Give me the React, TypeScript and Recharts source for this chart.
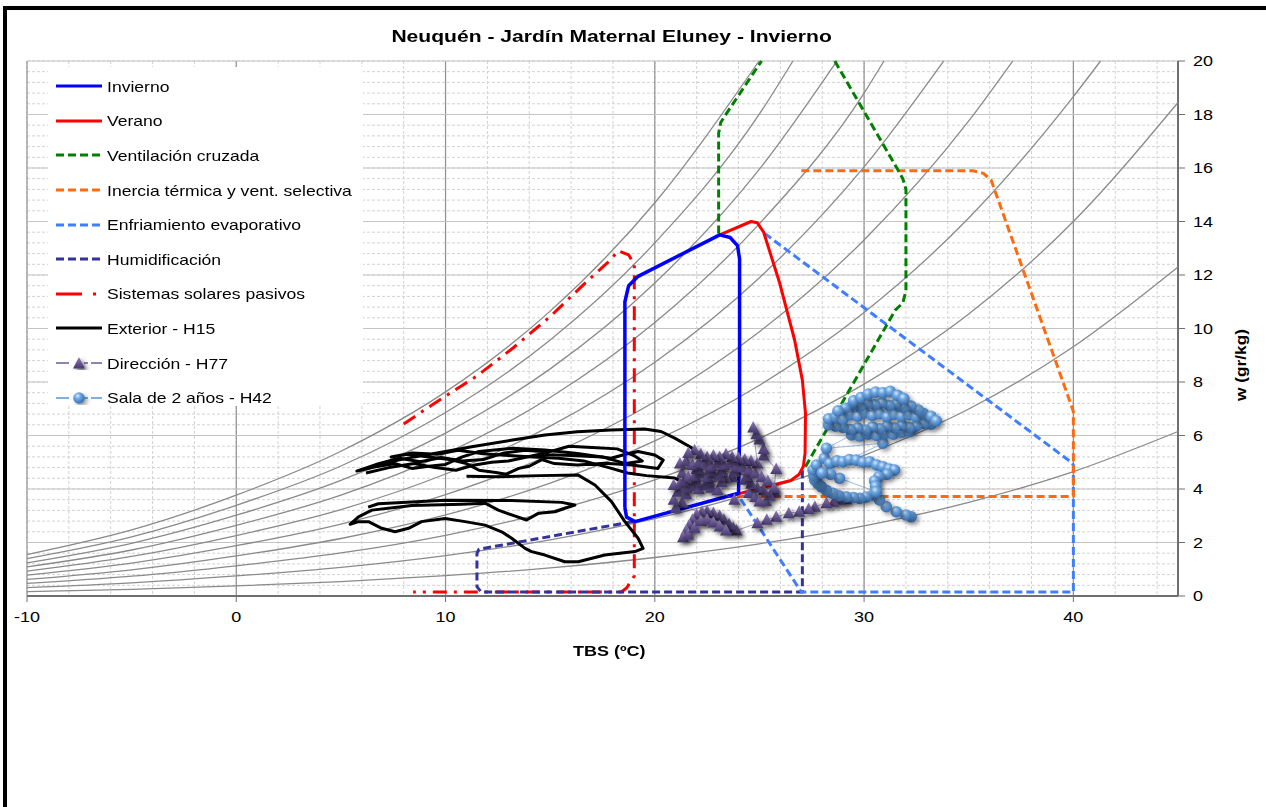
import React from "react";
import { ScatterChart, Scatter, XAxis, YAxis, CartesianGrid } from "recharts";

type Par = [number, number];

const FUENTE = '"Liberation Sans", Arial, Helvetica, sans-serif';
// el original está estirado en horizontal
const ESTIRA = 1.2;

const titulo = "Neuquén - Jardín Maternal Eluney - Invierno";
const tituloX = "TBS (ºC)";
const tituloY = "w (gr/kg)";

const ticksX = [-10, 0, 10, 20, 30, 40];
const ticksY = [0, 2, 4, 6, 8, 10, 12, 14, 16, 18, 20];
// grilla secundaria: cada 2 ºC y cada 0,4 gr/kg
const ticksXMenor = Array.from({ length: 28 }, (_, i) => -10 + 2 * i);
const ticksYMenor = Array.from({ length: 51 }, (_, i) => Math.round(i * 4) / 10);

const hr100: Par[] = [[-10, 1.55], [-5, 2.47], [0, 3.77], [5, 5.41], [10, 7.63], [15, 10.65], [20, 14.7], [24.98, 20]];
const hr90: Par[] = [[-10, 1.4], [-5, 2.21], [0, 3.39], [5, 4.86], [10, 6.86], [15, 9.57], [20, 13.2], [25, 18.02], [26.6, 20]];
const hr80: Par[] = [[-10, 1.24], [-5, 1.97], [0, 3.02], [5, 4.32], [10, 6.09], [15, 8.49], [20, 11.7], [25, 15.96], [28.7, 20]];
const hr70: Par[] = [[-10, 1.09], [-5, 1.72], [0, 2.64], [5, 3.77], [10, 5.32], [15, 7.42], [20, 10.22], [25, 13.92], [30, 18.8], [30.95, 20]];
const hr60: Par[] = [[-10, 0.93], [-5, 1.48], [0, 2.26], [5, 3.23], [10, 4.56], [15, 6.35], [20, 8.74], [25, 11.9], [30, 16.04], [33.8, 20]];
const hr50: Par[] = [[-10, 0.78], [-5, 1.23], [0, 1.88], [5, 2.69], [10, 3.79], [15, 5.28], [20, 7.26], [25, 9.88], [30, 13.31], [35, 17.76], [37.1, 20]];
const hr40: Par[] = [[-10, 0.62], [-5, 0.98], [0, 1.5], [5, 2.15], [10, 3.03], [15, 4.22], [20, 5.8], [25, 7.88], [30, 10.6], [35, 14.13], [40, 18.67], [41.3, 20]];
const hr30: Par[] = [[-10, 0.47], [-5, 0.74], [0, 1.13], [5, 1.61], [10, 2.27], [15, 3.16], [20, 4.34], [25, 5.89], [30, 7.92], [35, 10.54], [40, 14.0], [45, 18.45]];
const hr20: Par[] = [[-10, 0.31], [-5, 0.49], [0, 0.75], [5, 1.07], [10, 1.51], [15, 2.1], [20, 2.89], [25, 3.92], [30, 5.26], [35, 6.99], [40, 9.32], [45, 12.3]];
const hr10: Par[] = [[-10, 0.16], [-5, 0.25], [0, 0.38], [5, 0.54], [10, 0.76], [15, 1.05], [20, 1.44], [25, 1.95], [30, 2.62], [35, 3.5], [40, 4.65], [45, 6.15]];
const curvasHR = [hr100, hr90, hr80, hr70, hr60, hr50, hr40, hr30, hr20, hr10];

// zonas de confort y estrategias
const invierno: Par[] = [[18.57, 3.3], [18.65, 2.95], [19.05, 2.78], [24.0, 3.84], [24.05, 6.0], [24.05, 12.6], [23.95, 13.1], [23.6, 13.4], [23.1, 13.5], [19.2, 11.95], [18.75, 11.6], [18.57, 11.0], [18.57, 3.3]];
const verano: Par[] = [[23.1, 13.5], [24.6, 14.0], [24.9, 13.95], [25.2, 13.6], [25.97, 11.69], [26.68, 9.57], [27.05, 8.07], [27.2, 6.83], [27.18, 5.34], [27.1, 4.85], [26.9, 4.55], [26.5, 4.32], [23.5, 3.72]];
const ventilacionIzq: Par[] = [[23.05, 13.55], [23.05, 17.3], [23.15, 17.7], [23.35, 17.95], [25.1, 20]];
const ventilacionDer: Par[] = [[28.6, 20], [31.6, 15.95], [31.85, 15.6], [32.0, 15.2], [32.0, 11.4], [31.85, 10.95], [31.5, 10.7], [27.15, 4.77]];
const inercia: Par[] = [[27.0, 15.9], [35.2, 15.9], [35.7, 15.8], [36.07, 15.55], [39.8, 7.35], [40.0, 6.9], [40.0, 3.72], [23.5, 3.72]];
const enfriamiento: Par[] = [[25.25, 13.55], [39.9, 5.0], [40.0, 4.9], [40.0, 0.15], [27.0, 0.15], [24.0, 3.75]];
const humidificacion: Par[] = [[18.95, 2.78], [11.6, 1.75], [11.5, 1.6], [11.5, 0.35], [11.7, 0.15], [27.05, 0.15], [27.05, 4.77]];
const solaresPasivos: Par[] = [[8.0, 6.43], [9.42, 7.18], [11.49, 8.22], [13.24, 9.28], [14.99, 10.44], [16.58, 11.63], [17.85, 12.54], [18.25, 12.91], [18.75, 12.75], [19.02, 12.4], [19.02, 0.75], [18.65, 0.3], [18.4, 0.15], [8.45, 0.15]];

// Exterior - H15 (tramos del registro)
const exteriorTramo1: Par[] = [
  [22.4, 5.15], [21.7, 5.57], [20.95, 5.9], [20.3, 6.15], [19.5, 6.24], [17.9, 6.21], [16.3, 6.14], [14.75, 6.02], [13.2, 5.83],
  [11.25, 5.58], [10.0, 5.4], [8.5, 5.2], [7.75, 5.08], [6.8, 4.9], [5.76, 4.67], [6.6, 4.82], [7.6, 4.95], [8.4, 4.77], [9.2, 4.85],
  [10.0, 4.92], [10.8, 5.2], [11.6, 5.4], [13.2, 5.52], [14.75, 5.46], [16.3, 5.33], [17.9, 5.15], [18.6, 5.3], [19.2, 5.4],
  [20.0, 5.27], [20.4, 5.08], [20.15, 4.77], [18.9, 4.9], [17.6, 4.96], [16.3, 4.9], [15.2, 4.95], [14.6, 5.1], [14.0, 4.85],
  [13.5, 4.77], [12.9, 4.55], [12.4, 4.62], [11.6, 4.7], [11.0, 4.95], [10.2, 5.1], [9.2, 5.2], [8.2, 5.3], [7.4, 5.2], [8.4, 5.35],
  [9.6, 5.3], [10.6, 5.45], [11.8, 5.32], [13.0, 5.25], [14.2, 5.2], [15.4, 5.15], [16.6, 5.05], [17.8, 4.8], [18.7, 4.6],
  [19.6, 4.5], [20.95, 4.41], [21.8, 4.09],
];
const exteriorTramo2: Par[] = [
  [11.0, 4.48], [12.5, 4.46], [14.5, 4.5], [16.34, 4.52], [17.14, 4.15], [17.93, 3.53], [18.57, 2.78], [19.2, 2.16], [19.44, 1.78],
  [19.05, 1.66], [17.61, 1.53], [16.34, 1.28], [15.7, 1.28], [14.75, 1.53], [14.11, 1.66], [13.8, 1.78], [13.16, 2.16], [12.68, 2.4],
  [11.89, 2.65], [10.93, 2.78], [9.98, 2.9], [8.86, 2.78], [8.23, 2.53], [7.59, 2.4], [6.95, 2.53], [6.32, 2.78], [5.84, 2.78],
  [5.44, 2.68], [5.84, 2.96], [6.48, 3.21], [8.39, 3.38], [10.77, 3.43], [11.89, 3.47], [12.52, 3.21], [13.16, 3.03], [13.87, 2.84],
  [14.43, 3.09], [15.23, 3.15], [15.7, 3.28], [16.18, 3.4], [15.55, 3.5], [13.16, 3.57], [9.98, 3.58], [6.79, 3.45], [6.3, 3.32],
];
const exteriorTramo3: Par[] = [
  [5.9, 4.7], [6.8, 4.95], [7.8, 5.15], [8.8, 5.02], [9.8, 5.18], [10.8, 5.05], [11.8, 5.1], [12.8, 5.35], [13.8, 5.45], [14.9, 5.38],
  [15.9, 5.6], [17.0, 5.55], [18.2, 5.5], [19.0, 5.25], [19.4, 5.05], [18.6, 4.95], [17.5, 5.2], [16.0, 5.25], [14.5, 5.3],
  [13.0, 5.05], [12.2, 5.0], [11.4, 4.9], [10.5, 4.7], [9.5, 4.8], [8.5, 4.95], [7.3, 4.8], [6.2, 4.6],
];

// Dirección - H77
const direccion: Par[] = [
  [29.15, 3.62], [28.85, 3.6], [28.55, 3.52], [28.2, 3.47], [27.65, 3.34], [27.35, 3.25], [26.9, 3.15], [26.4, 3.09], [25.8, 2.96],
  [25.35, 2.85], [24.9, 2.72], [23.9, 2.45], [23.75, 2.55], [23.55, 2.68], [23.3, 2.85], [23.1, 3.0], [22.8, 3.1], [22.5, 3.18],
  [22.25, 3.15], [22.0, 3.05], [21.8, 2.85], [21.65, 2.65], [21.5, 2.45], [21.35, 2.2], [21.6, 2.3], [21.9, 2.55], [22.2, 2.8],
  [22.5, 2.85], [22.8, 2.75], [23.1, 2.6], [23.4, 2.45], [21.3, 3.5], [21.0, 3.3], [20.9, 3.6], [21.1, 3.9], [21.5, 3.8],
  [20.9, 4.15], [21.2, 4.2], [21.5, 4.05], [21.8, 4.1], [22.1, 4.0], [22.4, 4.15], [22.7, 4.05], [23.0, 3.95], [23.8, 3.6],
  [24.5, 3.85], [24.8, 3.7], [25.0, 3.53], [25.3, 3.55], [25.73, 3.9], [25.5, 3.75], [25.2, 3.95], [24.9, 4.05], [24.6, 4.2],
  [24.3, 4.35], [23.7, 4.45], [23.4, 4.4], [23.2, 4.25], [22.6, 4.3], [22.0, 4.3], [21.4, 4.3], [21.3, 4.6], [21.6, 4.45],
  [21.9, 4.5], [22.2, 4.6], [22.5, 4.45], [22.8, 4.55], [23.1, 4.5], [23.8, 4.65], [24.4, 4.5], [23.2, 4.7], [22.6, 4.7],
  [22.0, 4.75], [21.2, 4.95], [21.5, 5.05], [21.8, 4.9], [22.1, 5.0], [22.4, 4.95], [22.7, 4.85], [23.0, 4.95], [23.3, 4.9],
  [23.6, 4.95], [23.9, 4.85], [24.2, 4.8], [24.5, 4.7], [24.8, 4.6], [25.1, 4.45], [25.4, 4.3], [25.7, 4.05], [25.8, 4.75],
  [25.2, 5.25], [25.2, 5.5], [25.0, 5.85], [24.85, 6.05], [24.7, 6.3], [24.9, 4.95], [24.6, 5.05], [24.3, 5.1], [24.0, 5.15],
  [23.7, 5.2], [23.4, 5.3], [23.1, 5.2], [22.8, 5.25], [22.5, 5.2], [22.2, 5.3], [21.9, 5.45], [21.6, 5.35],
];

// Sala de 2 años - H42
const sala: Par[] = [
  [32.25, 2.96], [32.0, 3.03], [31.54, 3.15], [31.06, 3.34], [30.74, 3.59], [30.42, 3.78], [30.1, 3.7], [29.79, 3.65], [29.5, 3.68],
  [29.15, 3.71], [28.8, 3.75], [28.51, 3.84], [28.2, 3.95], [27.96, 4.09], [27.8, 4.2], [27.64, 4.34], [27.6, 4.5], [27.56, 4.71],
  [27.72, 4.9], [28.1, 5.15], [28.35, 4.96], [28.7, 5.05], [28.99, 5.02], [29.3, 5.1], [29.63, 5.08], [29.95, 5.0], [30.26, 5.02],
  [30.6, 4.9], [30.9, 4.83], [31.2, 4.75], [31.46, 4.71], [31.1, 4.55], [30.7, 4.45], [30.5, 4.3], [30.55, 4.1], [30.58, 3.9],
  [28.83, 4.4], [28.4, 4.55], [28.0, 4.6], [30.9, 5.71], [28.2, 5.52],
  [29.4, 6.02], [29.8, 5.98], [30.2, 6.05], [30.6, 6.0], [31.0, 6.08], [31.4, 6.05], [31.8, 6.12], [32.2, 6.15],
  [33.2, 6.42], [32.85, 6.45], [32.5, 6.35], [32.15, 6.3], [31.8, 6.38], [31.45, 6.28], [31.1, 6.36], [30.75, 6.25], [30.4, 6.32],
  [30.05, 6.2], [29.7, 6.28], [29.35, 6.22], [29.0, 6.3], [28.65, 6.35], [28.3, 6.4],
  [28.3, 6.62], [28.65, 6.7], [29.0, 6.62], [29.35, 6.78], [29.7, 6.72], [30.05, 6.85], [30.4, 6.75], [30.75, 6.82], [31.1, 6.7],
  [31.45, 6.8], [31.8, 6.72], [32.15, 6.78], [32.5, 6.7], [32.85, 6.82], [33.2, 6.72], [33.45, 6.55],
  [32.6, 6.95], [32.25, 7.1], [31.9, 7.05], [31.55, 7.18], [31.2, 7.12], [30.85, 7.22], [30.5, 7.15], [30.15, 7.2], [29.8, 7.08],
  [29.45, 7.15], [29.1, 7.02], [28.75, 6.92],
  [29.5, 7.3], [29.85, 7.42], [30.2, 7.55], [30.55, 7.62], [30.9, 7.6], [31.25, 7.65], [31.6, 7.5], [31.9, 7.38],
];

const leyenda = [
  { texto: "Invierno", color: "#0000ff", trazo: undefined as string | undefined, marca: "" },
  { texto: "Verano", color: "#ff0000", trazo: undefined, marca: "" },
  { texto: "Ventilación cruzada", color: "#008000", trazo: "8 4", marca: "" },
  { texto: "Inercia térmica y vent. selectiva", color: "#ff6a0d", trazo: "8 4", marca: "" },
  { texto: "Enfriamiento evaporativo", color: "#3f7fff", trazo: "8 4", marca: "" },
  { texto: "Humidificación", color: "#33339a", trazo: "8 4", marca: "" },
  { texto: "Sistemas solares pasivos", color: "#ff0000", trazo: "26 11 3 10", marca: "" },
  { texto: "Exterior - H15", color: "#000000", trazo: undefined, marca: "" },
  { texto: "Dirección - H77", color: "#6b5b95", trazo: "13 5 0 10 4 3", marca: "tri" },
  { texto: "Sala de 2 años - H42", color: "#5b93d3", trazo: "13 5 0 10 4 3", marca: "esf" },
];

const pts = (a: Par[]) => a.map(([x, y]) => ({ x, y }));
const sinMarca = () => <g />;

function Triangulo({ cx, cy }: { cx: number; cy: number }) {
  return (
    <polygon
      points={`${cx},${cy - 6.5} ${cx + 6},${cy + 5} ${cx - 6},${cy + 5}`}
      fill="url(#rellenoTri)"
      filter="url(#sombra)"
    />
  );
}

function Esfera({ cx, cy }: { cx: number; cy: number }) {
  return <circle cx={cx} cy={cy} r={5.8} fill="url(#rellenoEsf)" filter="url(#sombraSuave)" />;
}

function TickX(props: any) {
  const { x, y, payload } = props;
  return (
    <text transform={`translate(${x},${y}) scale(${ESTIRA},1)`} textAnchor="middle" dy="0.71em" fill="#000" fontSize={15} fontFamily={FUENTE}>
      {payload.value}
    </text>
  );
}

function TickY(props: any) {
  const { x, y, payload } = props;
  return (
    <text transform={`translate(${x},${y}) scale(${ESTIRA},1)`} textAnchor="start" dy="0.36em" fill="#000" fontSize={15} fontFamily={FUENTE}>
      {payload.value}
    </text>
  );
}

function Muestra({ item }: { item: (typeof leyenda)[number] }) {
  const fina = item.marca !== "";
  return (
    <svg width={50} height={14} style={{ display: "block" }}>
      <line x1={0} x2={46} y1={7} y2={7} stroke={item.color} strokeWidth={fina ? 1.5 : 3} strokeDasharray={item.trazo} />
      {item.marca === "tri" && <Triangulo cx={23} cy={7.5} />}
      {item.marca === "esf" && <Esfera cx={23} cy={7} />}
    </svg>
  );
}

function linea(datos: Par[], color: string, ancho: number, trazo?: string, curva: "linear" | "monotoneX" = "linear") {
  return (
    <Scatter
      data={pts(datos)}
      shape={sinMarca}
      line={{ stroke: color, strokeWidth: ancho, strokeDasharray: trazo, strokeLinejoin: "round", fill: "none" }}
      lineJointType={curva}
      legendType="none"
      isAnimationActive={false}
    />
  );
}

const estirado = (origen: string, k = ESTIRA): React.CSSProperties => ({
  display: "inline-block",
  transform: `scaleX(${k})`,
  transformOrigin: origen,
});

export default function App() {
  return (
    <div style={{ position: "fixed", left: 0, top: 0, width: 1266, height: 807, overflow: "hidden", background: "#fff", fontFamily: FUENTE }}>
      <svg width={0} height={0} style={{ position: "absolute" }}>
        <defs>
          <linearGradient id="rellenoTri" x1="0" y1="0" x2="0" y2="1">
            <stop offset="0%" stopColor="#8d7db8" />
            <stop offset="100%" stopColor="#46376e" />
          </linearGradient>
          <radialGradient id="rellenoEsf" cx="0.38" cy="0.32" r="0.72">
            <stop offset="0%" stopColor="#d4e9ff" />
            <stop offset="35%" stopColor="#70a9e3" />
            <stop offset="100%" stopColor="#3266a8" />
          </radialGradient>
          <filter id="sombra" x="-70%" y="-70%" width="260%" height="260%">
            <feDropShadow dx="2.5" dy="2.5" stdDeviation="2" floodColor="#000" floodOpacity="0.65" />
          </filter>
          <filter id="sombraSuave" x="-70%" y="-70%" width="260%" height="260%">
            <feDropShadow dx="2.5" dy="2.5" stdDeviation="2" floodColor="#000" floodOpacity="0.4" />
          </filter>
        </defs>
      </svg>

      <div style={{ position: "absolute", left: 3, top: 6, width: 1400, height: 1000, borderTop: "4px solid #000", borderLeft: "4px solid #000" }} />

      <div style={{ position: "absolute", left: 0, top: 0 }}>
        <ScatterChart width={1266} height={807} margin={{ top: 61, right: 28, bottom: 171, left: 27 }}>
          <CartesianGrid verticalValues={ticksXMenor} horizontalValues={ticksYMenor} stroke="#d2d2d2" strokeDasharray="3 2" />
          <CartesianGrid horizontal={false} stroke="#8f8f8f" strokeWidth={1.2} />
          <CartesianGrid vertical={false} stroke="#c4c4c4" strokeWidth={1.2} />
          <XAxis
            type="number"
            dataKey="x"
            domain={[-10, 45]}
            ticks={ticksX}
            interval={0}
            tick={TickX}
            tickSize={6}
            tickMargin={9}
            axisLine={{ stroke: "#6f6f6f", strokeWidth: 2 }}
            tickLine={{ stroke: "#6f6f6f" }}
            height={40}
          />
          <YAxis
            type="number"
            dataKey="y"
            domain={[0, 20]}
            ticks={ticksY}
            interval={0}
            orientation="right"
            tick={TickY}
            tickSize={7}
            tickMargin={8}
            axisLine={{ stroke: "#6f6f6f", strokeWidth: 2 }}
            tickLine={{ stroke: "#6f6f6f" }}
            width={60}
          />
          {curvasHR.map((c) => linea(c, "#8a8a8a", 1.3, undefined, "monotoneX"))}
          {linea(solaresPasivos, "#ff0000", 3, "14 7 3 7")}
          {linea(humidificacion, "#33339a", 3, "8 4")}
          {linea(enfriamiento, "#3f7fff", 3, "8 4")}
          {linea(inercia, "#ff6a0d", 3, "8 4")}
          {linea(ventilacionIzq, "#008000", 3, "8 4")}
          {linea(ventilacionDer, "#008000", 3, "8 4")}
          {linea(exteriorTramo1, "#000000", 3)}
          {linea(exteriorTramo2, "#000000", 3)}
          {linea(exteriorTramo3, "#000000", 3)}
          {linea(verano, "#ff0000", 3)}
          {linea(invierno, "#0000ff", 3.5)}
          <Scatter
            data={pts(direccion)}
            shape={(p: any) => <Triangulo cx={p.cx} cy={p.cy} />}
            line={{ stroke: "#6b5b95", strokeWidth: 1, strokeOpacity: 0.6, fill: "none" }}
            legendType="none"
            isAnimationActive={false}
          />
          <Scatter
            data={pts(sala)}
            shape={(p: any) => <Esfera cx={p.cx} cy={p.cy} />}
            line={{ stroke: "#5b93d3", strokeWidth: 1, strokeOpacity: 0.6, fill: "none" }}
            legendType="none"
            isAnimationActive={false}
          />
        </ScatterChart>
      </div>

      <div style={{ position: "absolute", left: 0, top: 27, width: 1224, textAlign: "center", fontSize: 17, lineHeight: "20px", fontWeight: "bold", color: "#000" }}>
        <span style={estirado("center", 1.24)}>{titulo}</span>
      </div>
      <div style={{ position: "absolute", left: 509, top: 642, width: 200, textAlign: "center", fontSize: 15, lineHeight: "18px", fontWeight: "bold" }}>
        <span style={estirado("center")}>{tituloX}</span>
      </div>
      <div style={{ position: "absolute", left: 1181, top: 356, width: 120, height: 18, textAlign: "center", fontSize: 15, lineHeight: "18px", fontWeight: "bold", transform: "rotate(-90deg) scaleX(1.15)" }}>
        {tituloY}
      </div>

      <div style={{ position: "absolute", left: 48, top: 67, width: 315, height: 339, background: "#fff" }}>
        {leyenda.map((item, i) => (
          <div key={item.texto} style={{ position: "absolute", left: 8, top: 2 + i * 34.6, height: 34.6, display: "flex", alignItems: "center" }}>
            <Muestra item={item} />
            <span style={{ marginLeft: 1, fontSize: 15, color: "#000", whiteSpace: "nowrap", ...estirado("left center", 1.17) }}>{item.texto}</span>
          </div>
        ))}
      </div>
    </div>
  );
}
